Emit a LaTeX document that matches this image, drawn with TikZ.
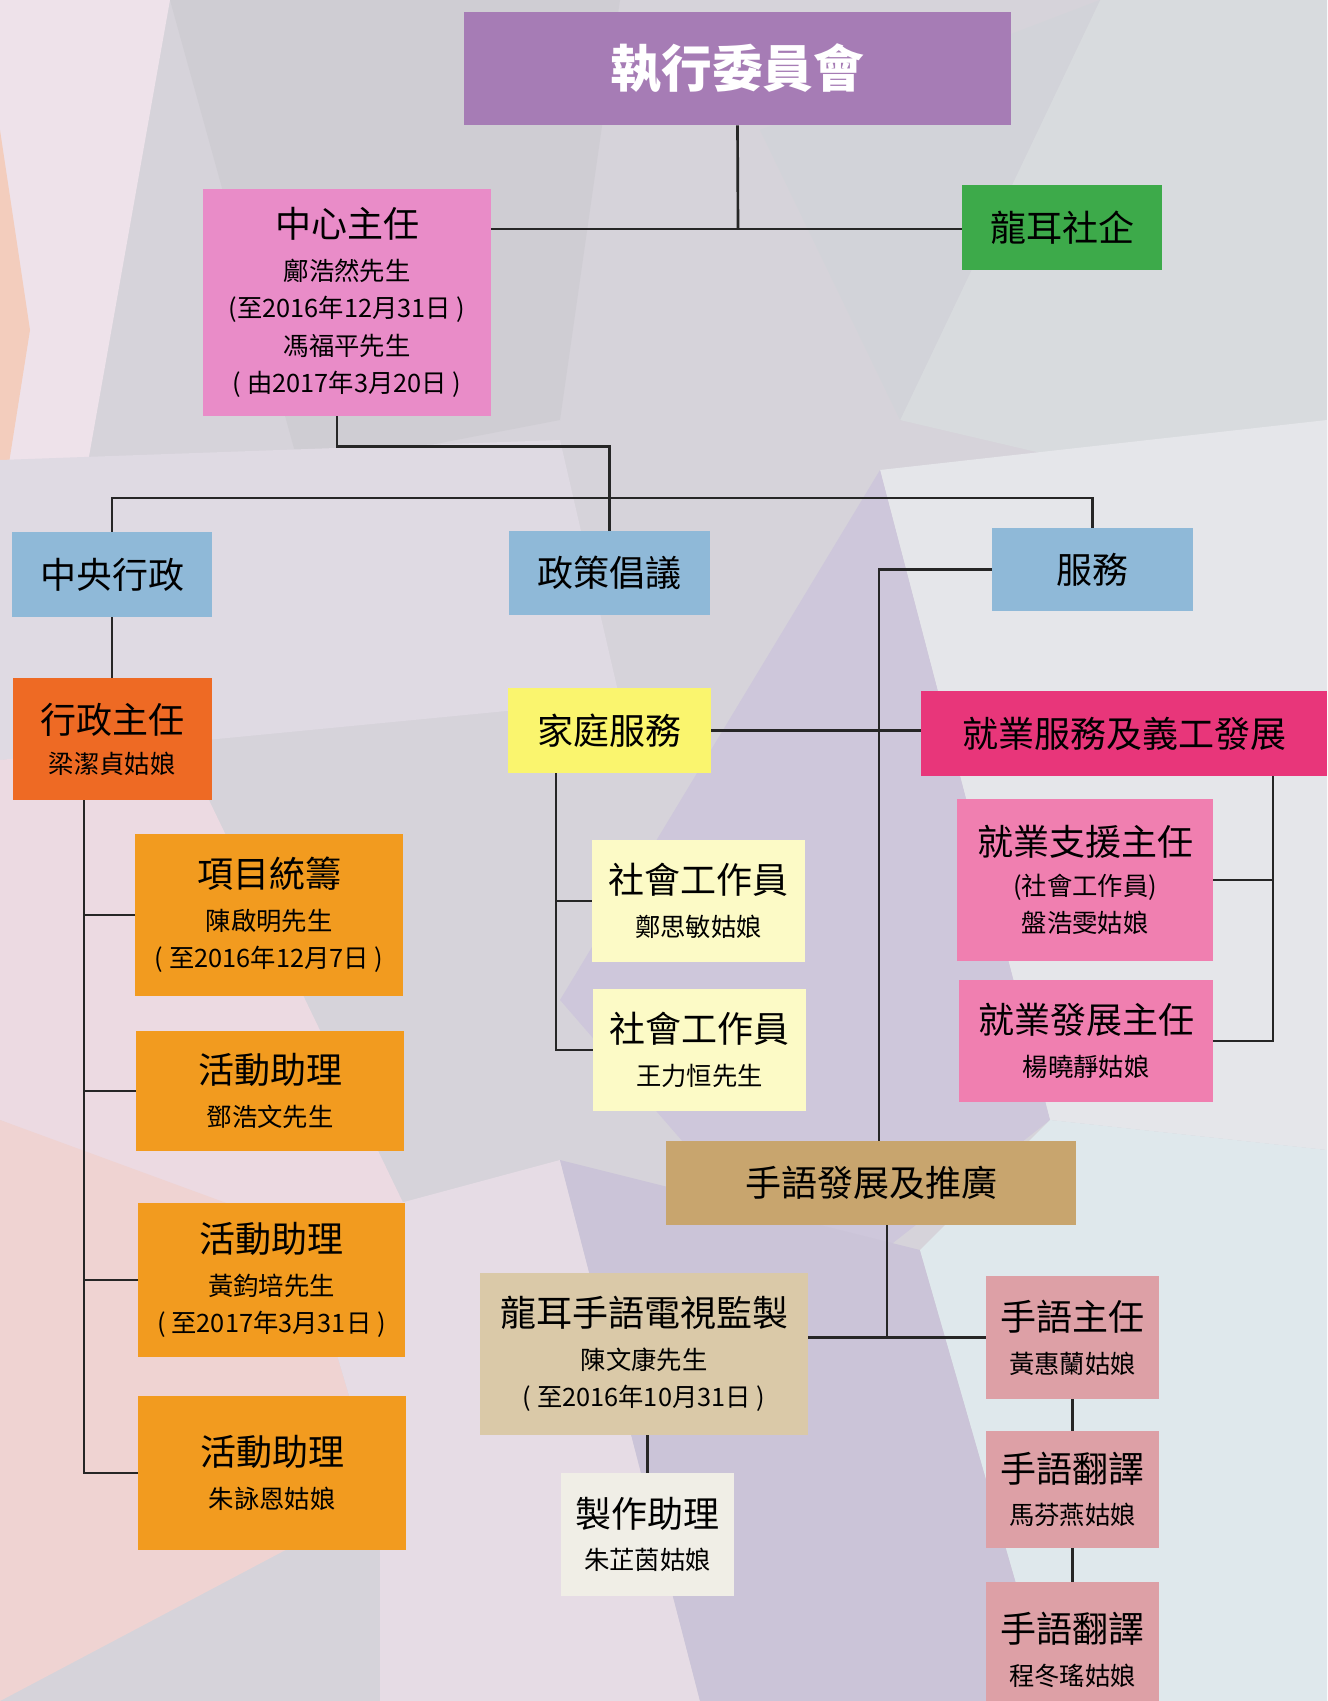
\documentclass[tikz,border=0pt]{standalone}
\usepackage{fontspec}
\setmainfont{Noto Sans CJK TC}
\definecolor{bgbase}{HTML}{D6D3DA}
\definecolor{bga}{HTML}{EEE2EA}
\definecolor{bgb}{HTML}{F3CDBD}
\definecolor{bgc}{HTML}{CFCDD3}
\definecolor{bgd}{HTML}{D8DBDE}
\definecolor{bge}{HTML}{D2D3D9}
\definecolor{bgf}{HTML}{DFDAE3}
\definecolor{bgg}{HTML}{E5E6EA}
\definecolor{bgh}{HTML}{CEC7DB}
\definecolor{bgi}{HTML}{ECDAE2}
\definecolor{bgj}{HTML}{EFD3D2}
\definecolor{bgk}{HTML}{E6DCE5}
\definecolor{bgl}{HTML}{CBC4D8}
\definecolor{bgm}{HTML}{DFE8EC}
\definecolor{cexec}{HTML}{A67CB5}
\definecolor{cdir}{HTML}{E98CC8}
\definecolor{cgreen}{HTML}{3DAA4A}
\definecolor{cblue}{HTML}{8FB9D8}
\definecolor{corgd}{HTML}{EE6A24}
\definecolor{corg}{HTML}{F29B1F}
\definecolor{cyel}{HTML}{FAF56E}
\definecolor{cpyel}{HTML}{FCFAC6}
\definecolor{cmag}{HTML}{E8367A}
\definecolor{cpink}{HTML}{F07FB0}
\definecolor{ctan}{HTML}{C8A56E}
\definecolor{cbeige}{HTML}{DAC9A8}
\definecolor{cwhite}{HTML}{F0EEE6}
\definecolor{cdusty}{HTML}{DDA0A6}
\newcommand{\ttl}[1]{{\fontsize{27}{30}\selectfont #1}}
\tikzset{
  box/.style 2 args={rectangle, inner sep=0pt, align=center, text=black,
    minimum width=#1*0.75pt, minimum height=#2*0.75pt,
    font=\fontsize{19}{28}\selectfont},
  conn/.style={draw=black!85, line width=2pt},
}
\begin{document}
\begin{tikzpicture}[x=0.75pt, y=-0.75pt]
\useasboundingbox (0,0) rectangle (1327,1701);
\clip (0,0) rectangle (1327,1701);
% background
\fill[bgbase] (0,0) rectangle (1327,1701);
\fill[bga] (0,0) -- (170,0) -- (60,620) -- (0,700) -- cycle;
\fill[bgb] (0,130) -- (30,330) -- (0,520) -- cycle;
\fill[bgc] (170,0) -- (620,0) -- (560,420) -- (300,470) -- cycle;
\fill[bgd] (1100,0) -- (1327,0) -- (1327,520) -- (900,420) -- cycle;
\fill[bge] (760,130) -- (1100,0) -- (900,420) -- cycle;
\fill[bgf] (0,460) -- (560,440) -- (620,700) -- (0,760) -- cycle;
\fill[bgg] (880,470) -- (1327,420) -- (1327,1150) -- (1050,1120) -- cycle;
\fill[bgh] (880,470) -- (1050,1120) -- (820,1300) -- (560,1000) -- cycle;
\fill[bgi] (0,760) -- (180,740) -- (450,1300) -- (0,1120) -- cycle;
\fill[bgj] (0,1120) -- (300,1230) -- (380,1500) -- (0,1701) -- cycle;
\fill[bgk] (300,1230) -- (560,1160) -- (700,1701) -- (380,1701) -- (380,1500) -- cycle;
\fill[bgl] (560,1160) -- (920,1250) -- (1050,1701) -- (700,1701) -- cycle;
\fill[bgm] (1050,1120) -- (1327,1150) -- (1327,1701) -- (1050,1701) -- (920,1250) -- cycle;

% nodes
\node[box={547}{113}, fill=cexec, text=white, font=\fontsize{38}{40}\selectfont\bfseries] (exec) at (737.5,68.5) {執行委員會};
\node[box={288}{227}, fill=cdir] (dir) at (347,302.5)
  {\ttl{中心主任}\\[4pt]鄺浩然先生\\(至2016年12月31日 )\\馮福平先生\\( 由2017年3月20日 )};
\node[box={200}{85}, fill=cgreen] (se) at (1062,227.5) {\ttl{龍耳社企}};
\node[box={200}{85}, fill=cblue] (central) at (112,574.5) {\ttl{中央行政}};
\node[box={201}{84}, fill=cblue] (policy) at (609.5,573) {\ttl{政策倡議}};
\node[box={201}{83}, fill=cblue] (service) at (1092.5,569.5) {\ttl{服務}};
\node[box={199}{122}, fill=corgd] (ahead) at (112,739) {\ttl{行政主任}\\[2pt]梁潔貞姑娘};
\node[box={268}{162}, fill=corg] (proj) at (269,915) {\ttl{項目統籌}\\[4pt]陳啟明先生\\( 至2016年12月7日 )};
\node[box={268}{120}, fill=corg] (act1) at (270,1091) {\ttl{活動助理}\\[4pt]鄧浩文先生};
\node[box={267}{154}, fill=corg] (act2) at (271.5,1280) {\ttl{活動助理}\\[4pt]黃鈞培先生\\( 至2017年3月31日 )};
\node[box={268}{154}, fill=corg] (act3) at (272,1473) {\ttl{活動助理}\\[4pt]朱詠恩姑娘};
\node[box={203}{85}, fill=cyel] (family) at (609.5,730.5) {\ttl{家庭服務}};
\node[box={213}{122}, fill=cpyel] (sw1) at (698.5,901) {\ttl{社會工作員}\\[4pt]鄭思敏姑娘};
\node[box={213}{122}, fill=cpyel] (sw2) at (699.5,1050) {\ttl{社會工作員}\\[4pt]王力恒先生};
\node[box={406}{85}, fill=cmag] (employ) at (1124,733.5) {\ttl{就業服務及義工發展}};
\node[box={256}{162}, fill=cpink] (es1) at (1085,880) {\ttl{就業支援主任}\\[2pt](社會工作員)\\盤浩雯姑娘};
\node[box={254}{122}, fill=cpink] (es2) at (1086,1041) {\ttl{就業發展主任}\\[4pt]楊曉靜姑娘};
\node[box={410}{84}, fill=ctan] (sign) at (871,1183) {\ttl{手語發展及推廣}};
\node[box={328}{162}, fill=cbeige] (tv) at (644,1354) {\ttl{龍耳手語電視監製}\\[4pt]陳文康先生\\( 至2016年10月31日 )};
\node[box={173}{123}, fill=cwhite] (prod) at (647.5,1534.5) {\ttl{製作助理}\\[4pt]朱芷茵姑娘};
\node[box={173}{123}, fill=cdusty] (sl1) at (1072.5,1337.5) {\ttl{手語主任}\\[4pt]黃惠蘭姑娘};
\node[box={173}{117}, fill=cdusty] (sl2) at (1072.5,1489.5) {\ttl{手語翻譯}\\[4pt]馬芬燕姑娘};
\node[box={173}{136}, fill=cdusty] (sl3) at (1072.5,1650) {\ttl{手語翻譯}\\[4pt]程冬瑤姑娘};

% connectors
\coordinate (topbus) at (738,229);
\draw[conn] (exec.south) -- (topbus);
\draw[conn] (dir.east |- topbus) -- (se.west |- topbus);
\coordinate (bus) at (0,498);
\draw[conn] (central.north) -- (central.north |- bus) -- (service.north |- bus) -- (service.north);
\draw[conn] ([xshift=-7.5pt]dir.south) -- ++(0,30) -| (policy.north);
\draw[conn] (central.south) -- (ahead.north);
\coordinate (lx) at (84,0);
\draw[conn] (ahead.south -| lx) -- (act3.west -| lx) -- (act3.west);
\draw[conn] (proj.west -| lx) -- (proj.west);
\draw[conn] (act1.west -| lx) -- (act1.west);
\draw[conn] (act2.west -| lx) -- (act2.west);
\coordinate (sx) at (879,0);
\draw[conn] (service.west) -- (service.west -| sx) -- (sign.north -| sx);
\draw[conn] (family.east) -- (family.east -| employ.west);
\coordinate (fx) at (556,0);
\draw[conn] (family.south -| fx) -- (sw2.west -| fx) -- (sw2.west);
\draw[conn] (sw1.west -| fx) -- (sw1.west);
\coordinate (ex) at (1273,0);
\draw[conn] (employ.south -| ex) -- (es2.east -| ex) -- (es2.east);
\draw[conn] (es1.east) -- (es1.east -| ex);
\coordinate (gx) at (887,0);
\draw[conn] (sign.south -| gx) -- (sl1.west -| gx);
\draw[conn] (tv.east |- sl1.west) -- (sl1.west);
\draw[conn] (prod.north |- tv.south) -- (prod.north);
\draw[conn] (sl1.south) -- (sl2.north);
\draw[conn] (sl2.south) -- (sl3.north);
\end{tikzpicture}
\end{document}
